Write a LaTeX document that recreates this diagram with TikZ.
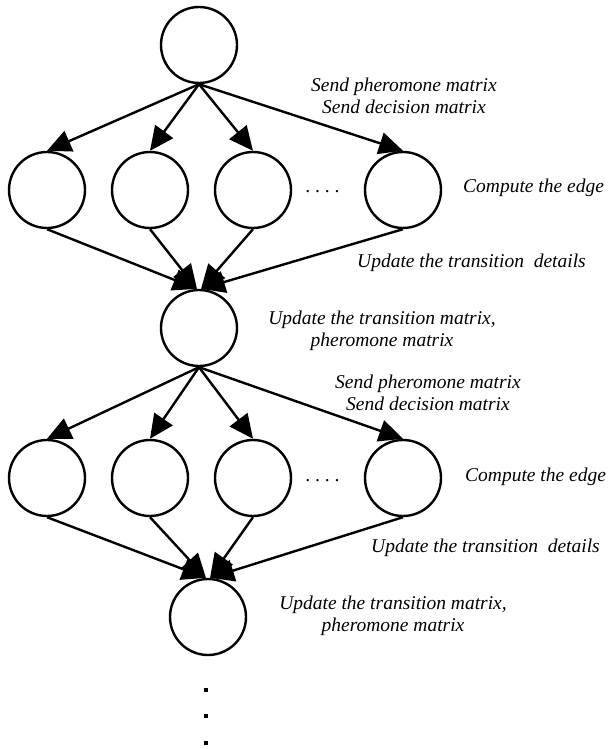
\documentclass[tikz,border=0pt]{standalone}
\usepackage{fontspec}
\setmainfont{Liberation Serif}
\usetikzlibrary{arrows.meta}

\begin{document}
\begin{tikzpicture}[x=1pt, y=-1pt,
  proc/.style={circle, draw, line width=2.4pt, minimum size=76pt,
               inner sep=0pt},
  msg/.style={font=\fontsize{19.5}{22}\selectfont\itshape, align=center,
              inner sep=0pt},
  flow/.style={line width=2.4pt, -{Triangle[length=24pt, width=22pt]}},
  dot/.style={rectangle, fill, minimum size=3.5pt, inner sep=0pt}]
  \useasboundingbox (0,0) rectangle (610,749);
  \node[proc] (n0) at (199,45) {};
  \node[proc] (n1) at (47,190) {};
  \node[proc] (n2) at (150,190) {};
  \node[proc] (n3) at (253,190) {};
  \node[proc] (n4) at (403,190) {};
  \node[proc] (n5) at (199,328) {};
  \node[proc] (n6) at (47,478) {};
  \node[proc] (n7) at (150,478) {};
  \node[proc] (n8) at (253,478) {};
  \node[proc] (n9) at (403,478) {};
  \node[proc] (n10) at (208,617) {};
  \node[msg] (s1) at (323,192) {.\ .\ .\ .};
  \node[msg] (s2) at (323,481) {.\ .\ .\ .};
  \node[dot] (d1) at (206,690) {};
  \node[dot] (d2) at (206,716) {};
  \node[dot] (d3) at (206,743) {};
  \node[msg] (t1) at (404,96) {Send pheromone matrix\\Send decision matrix};
  \node[msg, anchor=west] (t2) at (463,188) {Compute the edge};
  \node[msg, anchor=west] (t3) at (357,263) {Update the transition\ \ details};
  \node[msg] (t4) at (382,331) {Update the transition matrix,\\pheromone matrix};
  \node[msg] (t5) at (428,393) {Send pheromone matrix\\Send decision matrix};
  \node[msg, anchor=west] (t6) at (465,477) {Compute the edge};
  \node[msg, anchor=west] (t7) at (371,548) {Update the transition\ \ details};
  \node[msg] (t8) at (393,616) {Update the transition matrix,\\pheromone matrix};
  \draw[flow] (n0.south) -- (n1.north);
  \draw[flow] (n0.south) -- (n2.north);
  \draw[flow] (n0.south) -- (n3.north);
  \draw[flow] (n0.south) -- (n4.north);
  \draw[flow] (n1.south) -- (n5.93);
  \draw[flow] (n2.south) -- (n5.93);
  \draw[flow] (n3.south) -- (n5.87);
  \draw[flow] (n4.south) -- (n5.87);
  \draw[flow] (n5.south) -- (n6.north);
  \draw[flow] (n5.south) -- (n7.north);
  \draw[flow] (n5.south) -- (n8.north);
  \draw[flow] (n5.south) -- (n9.north);
  \draw[flow] (n6.south) -- (n10.93);
  \draw[flow] (n7.south) -- (n10.93);
  \draw[flow] (n8.south) -- (n10.87);
  \draw[flow] (n9.south) -- (n10.87);
\end{tikzpicture}
\end{document}
